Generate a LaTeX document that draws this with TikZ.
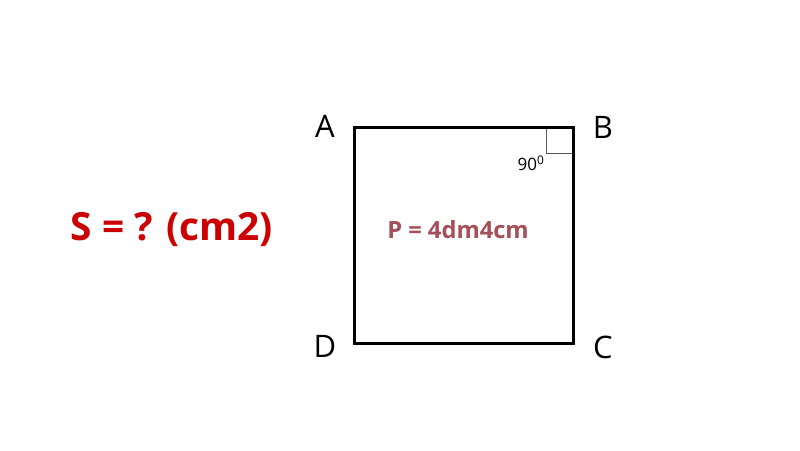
\documentclass[tikz,border=0pt]{standalone}
\usepackage{fontspec}
\setmainfont{Open Sans}
\definecolor{sred}{RGB}{204,0,0}
\definecolor{pred}{RGB}{165,80,88}
\begin{document}
\begin{tikzpicture}[x=1pt,y=-1pt,
  vlabel/.style={font=\fontsize{31}{31}\selectfont, inner sep=0pt, anchor=center},
  edge/.style={line width=3pt, line join=miter}]
\useasboundingbox (0,0) rectangle (800,450);
\coordinate (A) at (354,127);
\coordinate (B) at (573,127);
\coordinate (C) at (573,343);
\coordinate (D) at (354,343);
\coordinate (m1) at (546,127);
\coordinate (m2) at (546,153);
\coordinate (m3) at (573,153);
\draw[line width=0.8pt, gray!70!black] (m1) -- (m2) -- (m3);
\draw[edge] (A) -- (B) -- (C) -- (D) -- cycle;
\node[vlabel] (lA) at (325,126) {A};
\node[vlabel] (lB) at (603,127) {B};
\node[vlabel] (lC) at (603,347) {C};
\node[vlabel] (lD) at (325,346) {D};
\node[font=\fontsize{17}{17}\selectfont, inner sep=0pt] (ang) at (531,163) {90\textsuperscript{0}};
\node[font=\bfseries\fontsize{23.7}{24}\selectfont, text=pred, inner sep=0pt] (P) at (458,230) {P = 4dm4cm};
\node[font=\bfseries\fontsize{38.8}{39}\selectfont, text=sred, inner sep=0pt] (S) at (172,230) {S = ? (cm2)};
\end{tikzpicture}
\end{document}
